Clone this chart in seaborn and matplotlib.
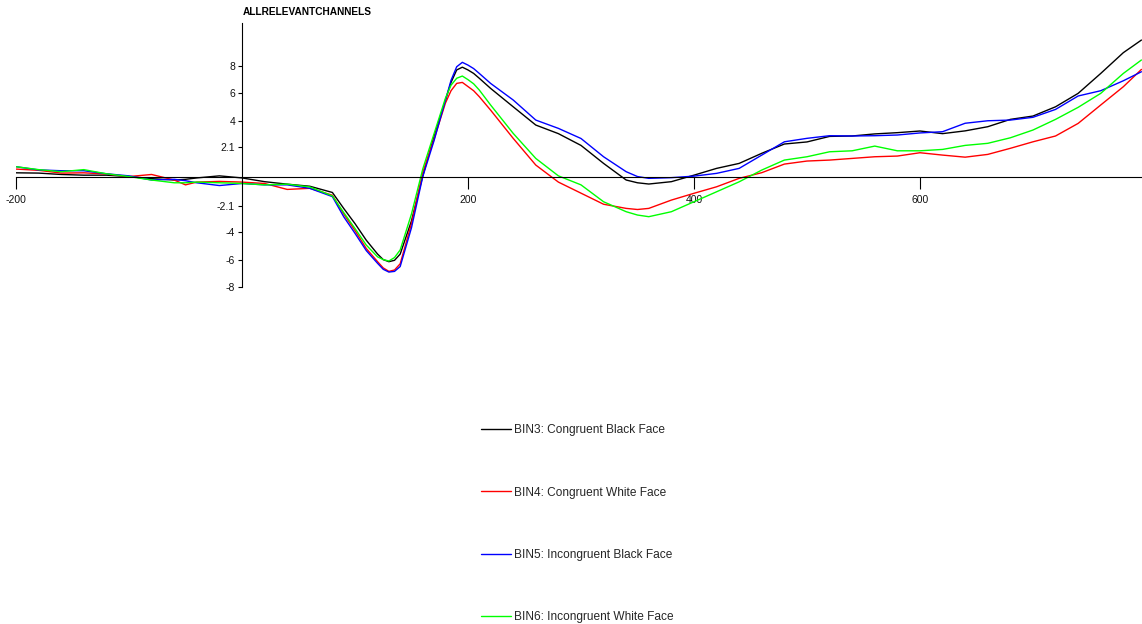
import matplotlib
matplotlib.use("Agg")
import matplotlib.pyplot as plt
import numpy as np
import pandas as pd
import seaborn as sns

# Grand-average ERP waveforms (µV) over all relevant channels
time_ms = [-200, -180, -160, -140, -120, -100, -80, -60, -50, -40, -20, 0, 20, 40, 60, 80,
           90, 100, 110, 120, 125, 130, 135, 140, 150, 160, 170, 180, 185, 190, 195, 200, 205,
           210, 220, 240, 260, 280, 300, 320, 340, 350, 360, 380, 400, 420, 440, 460, 480,
           500, 520, 540, 560, 580, 600, 620, 640, 660, 680, 700, 720, 740, 760, 780, 796]

bin3_congruent_black = [0.27, 0.25, 0.15, 0.1, 0.1, 0.0, -0.15, -0.25, -0.2, -0.1, 0.05, -0.1, -0.37,
                        -0.55, -0.7, -1.15, -2.3, -3.4, -4.6, -5.6, -6.0, -6.15, -6.05, -5.6, -3.2,
                        0.05, 2.9, 5.5, 6.8, 7.7, 7.9, 7.7, 7.45, 7.1, 6.37, 5.04, 3.72, 3.1, 2.25,
                        0.95, -0.25, -0.45, -0.54, -0.37, 0.1, 0.59, 0.95, 1.68, 2.35, 2.5, 2.9,
                        2.93, 3.08, 3.17, 3.29, 3.1, 3.3, 3.6, 4.13, 4.37, 5.04, 6.01, 7.45, 8.95,
                        9.86]

bin4_congruent_white = [0.54, 0.45, 0.25, 0.27, 0.18, 0.0, 0.15, -0.25, -0.6, -0.4, -0.35, -0.4, -0.5,
                        -0.93, -0.85, -1.35, -2.7, -3.9, -5.2, -6.15, -6.6, -6.85, -6.75, -6.3, -3.4,
                        0.3, 2.7, 5.3, 6.2, 6.73, 6.8, 6.5, 6.2, 5.77, 4.8, 2.76, 0.83, -0.4, -1.2,
                        -2.0, -2.3, -2.38, -2.3, -1.7, -1.21, -0.74, -0.13, 0.28, 0.9, 1.12, 1.19,
                        1.31, 1.43, 1.48, 1.72, 1.55, 1.4, 1.6, 2.04, 2.51, 2.93, 3.84, 5.17, 6.49,
                        7.74]

bin5_incongruent_black = [0.71, 0.48, 0.42, 0.42, 0.2, 0.05, -0.25, -0.2, -0.3, -0.45, -0.65, -0.5, -0.6,
                          -0.6, -0.85, -1.45, -2.9, -4.1, -5.35, -6.27, -6.7, -6.9, -6.85, -6.5, -3.7,
                          0.0, 2.6, 5.5, 6.95, 7.93, 8.25, 8.05, 7.8, 7.45, 6.73, 5.53, 4.08, 3.48,
                          2.75, 1.43, 0.35, 0.0, -0.13, -0.08, 0.03, 0.23, 0.59, 1.55, 2.51, 2.76,
                          2.95, 2.93, 2.95, 3.0, 3.15, 3.24, 3.85, 4.03, 4.08, 4.28, 4.85, 5.82, 6.2,
                          6.92, 7.57]

bin6_incongruent_white = [0.71, 0.5, 0.35, 0.5, 0.2, 0.0, -0.25, -0.45, -0.45, -0.4, -0.45, -0.5, -0.6,
                          -0.55, -0.75, -1.4, -2.6, -3.75, -4.95, -5.8, -6.0, -6.1, -5.85, -5.3, -2.7,
                          0.55, 3.1, 5.65, 6.6, 7.1, 7.26, 7.0, 6.7, 6.25, 5.17, 3.12, 1.31, 0.05,
                          -0.6, -1.82, -2.54, -2.78, -2.9, -2.54, -1.82, -1.1, -0.38, 0.47, 1.19, 1.43,
                          1.79, 1.86, 2.2, 1.86, 1.86, 1.96, 2.25, 2.4, 2.8, 3.36, 4.13, 5.0, 6.01,
                          7.45, 8.42]

bin_labels = ["BIN3: Congruent Black Face", "BIN4: Congruent White Face",
              "BIN5: Incongruent Black Face", "BIN6: Incongruent White Face"]
bin_colors = ["#000000", "#ff0000", "#0000ff", "#00ff00"]

x_ticks = [-200, 200, 400, 600]
y_ticks = [8, 6, 4, 2.1, -2.1, -4, -6, -8]
y_ticklabels = ["8", "6", "4", "2.1", "-2.1", "-4", "-6", "-8"]

frames = []
for label, values in zip(bin_labels, [bin3_congruent_black, bin4_congruent_white,
                                      bin5_incongruent_black, bin6_incongruent_white]):
    frames.append(pd.DataFrame({"time": time_ms, "amplitude": values, "bin": label}))
df = pd.concat(frames, ignore_index=True)

sns.set_style("white")
plt.rcParams["font.family"] = ["Liberation Sans", "DejaVu Sans"]

W, H = 1142, 624
fig = plt.figure(figsize=(W / 100, H / 100), dpi=100)
ax = fig.add_axes([16 / W, 1 - 287.3 / H, 1126 / W, (287.3 - 23.3) / H])

sns.lineplot(data=df, x="time", y="amplitude", hue="bin", hue_order=bin_labels,
             palette=bin_colors, estimator=None, sort=False, linewidth=1.0,
             legend=False, ax=ax)

ax.set_xlim(-200, 796.5)
ax.set_ylim(-8, 11.07)
ax.set_xlabel("")
ax.set_ylabel("")

# Axes cross at the origin
for side in ["top", "right"]:
    ax.spines[side].set_visible(False)
ax.spines["left"].set_position(("data", 0))
ax.spines["bottom"].set_position(("data", 0))
for side in ["left", "bottom"]:
    ax.spines[side].set_color("black")
    ax.spines[side].set_linewidth(0.8)

ax.set_xticks(x_ticks)
ax.set_xticklabels([str(t) for t in x_ticks])
ax.set_yticks(y_ticks)
ax.set_yticklabels(y_ticklabels)
ax.tick_params(axis="x", direction="out", length=8.3, width=0.8, color="black",
               pad=5, labelsize=7.5, labelcolor="#111111", bottom=True)
ax.tick_params(axis="y", direction="out", length=3, width=0.8, color="black",
               pad=2, labelsize=7.5, labelcolor="#111111", left=True)
ax.grid(False)
ax.set_facecolor("white")

fig.text(243 / W, 1 - 12 / H, "ALLRELEVANTCHANNELS", fontsize=7.3, fontweight="bold",
         ha="left", va="center", color="black")

handles = ax.get_lines()[:4]
fig.legend(handles, bin_labels, loc="upper left", bbox_to_anchor=(481 / W, 1 - 424.5 / H),
           frameon=False, fontsize=8.6, handlelength=2.5, handletextpad=0.3,
           labelspacing=4.2, borderpad=0, borderaxespad=0)

fig.savefig("out.png", dpi=100, facecolor="white")
